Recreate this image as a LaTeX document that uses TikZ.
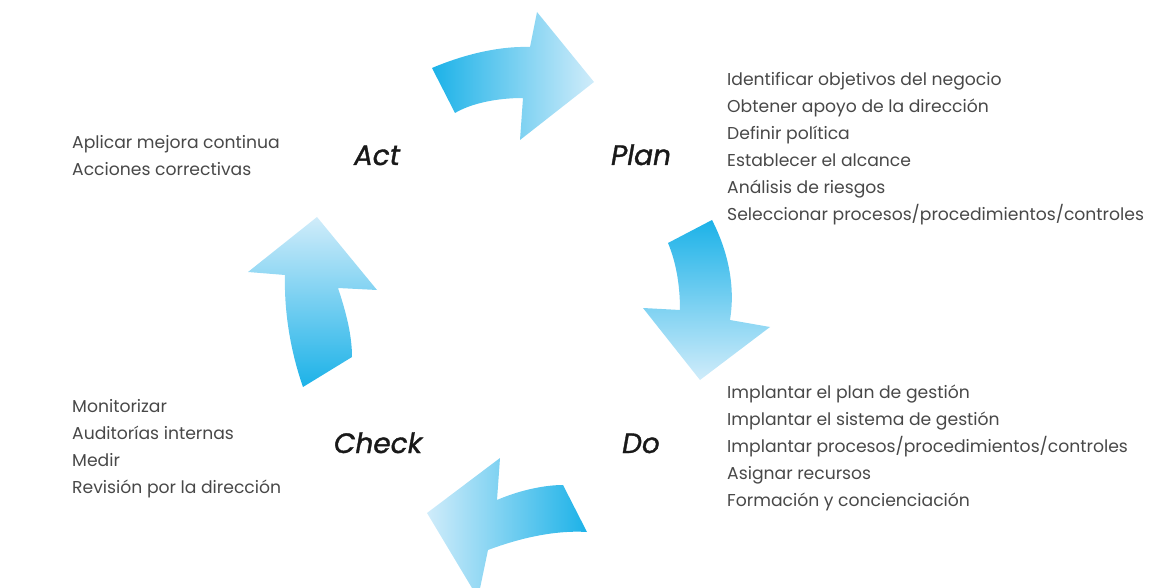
\documentclass[tikz,border=0pt]{standalone}
\usepackage{fontspec}
\setmainfont{Poppins}
\newfontfamily\phasefont[FakeBold=1.2]{Poppins}
\usepackage{tikz}
\usetikzlibrary{positioning}
\definecolor{cycdark}{RGB}{28,178,232}
\definecolor{cyclight}{RGB}{208,236,250}
\definecolor{listgray}{RGB}{72,72,72}

\begin{document}
\begin{tikzpicture}[x=1pt, y=-1pt,
    phase/.style={font=\phasefont\fontsize{28}{30}\selectfont\itshape, text=black!90, inner sep=0pt, anchor=base},
    item/.style={font=\fontsize{17.2}{27}\selectfont, text=listgray, inner sep=0pt, anchor=base west}]
    \useasboundingbox (0,0) rectangle (1165,588);
    \clip (0,0) rectangle (1165,588);

    % the four curved arrows of the cycle
    \shade[left color=cycdark, right color=cyclight] (432,68) .. controls (465,54) and (500,46) .. (530,47) -- (537,12) -- (594,82) -- (520,140) -- (523,98) .. controls (495,98) and (470,104) .. (455,113) -- cycle;
    \shade[top color=cycdark, bottom color=cyclight] (668,243) -- (712,220) .. controls (730,255) and (735,290) .. (730,320) -- (770,327) -- (700,380) -- (643,308) -- (680,310) .. controls (680,285) and (676,262) .. (668,243) -- cycle;
    \shade[right color=cycdark, left color=cyclight] (587,532) .. controls (555,530) and (520,538) .. (488,550) -- (478,598) -- (427,513) -- (500,458) -- (497,500) .. controls (520,490) and (545,485) .. (563,485) -- cycle;
    \shade[bottom color=cycdark, top color=cyclight] (303,387) .. controls (290,350) and (284,310) .. (285,275) -- (248,272) -- (317,217) -- (377,290) -- (338,288) .. controls (346,312) and (352,335) .. (352,357) -- cycle;

    \node[phase] (act) at (377,165) {Act};
    \node[phase] (plan) at (641,165) {Plan};
    \node[phase] (check) at (378,453) {Check};
    \node[phase] (do) at (641,453) {Do};

    \foreach \t [count=\i] in {Aplicar mejora continua, Acciones correctivas}
        \node[item] (act-\i) at (72,122+27*\i) {\t};
    \foreach \t [count=\i] in {Identificar objetivos del negocio, Obtener apoyo de la dirección, Definir política, Establecer el alcance, Análisis de riesgos, Seleccionar procesos/procedimientos/controles}
        \node[item] (plan-\i) at (727,59+27*\i) {\t};
    \foreach \t [count=\i] in {Implantar el plan de gestión, Implantar el sistema de gestión, Implantar procesos/procedimientos/controles, Asignar recursos, Formación y concienciación}
        \node[item] (do-\i) at (727,371+27*\i) {\t};
    \foreach \t [count=\i] in {Monitorizar, Auditorías internas, Medir, Revisión por la dirección}
        \node[item] (check-\i) at (72,385+27*\i) {\t};
\end{tikzpicture}
\end{document}
